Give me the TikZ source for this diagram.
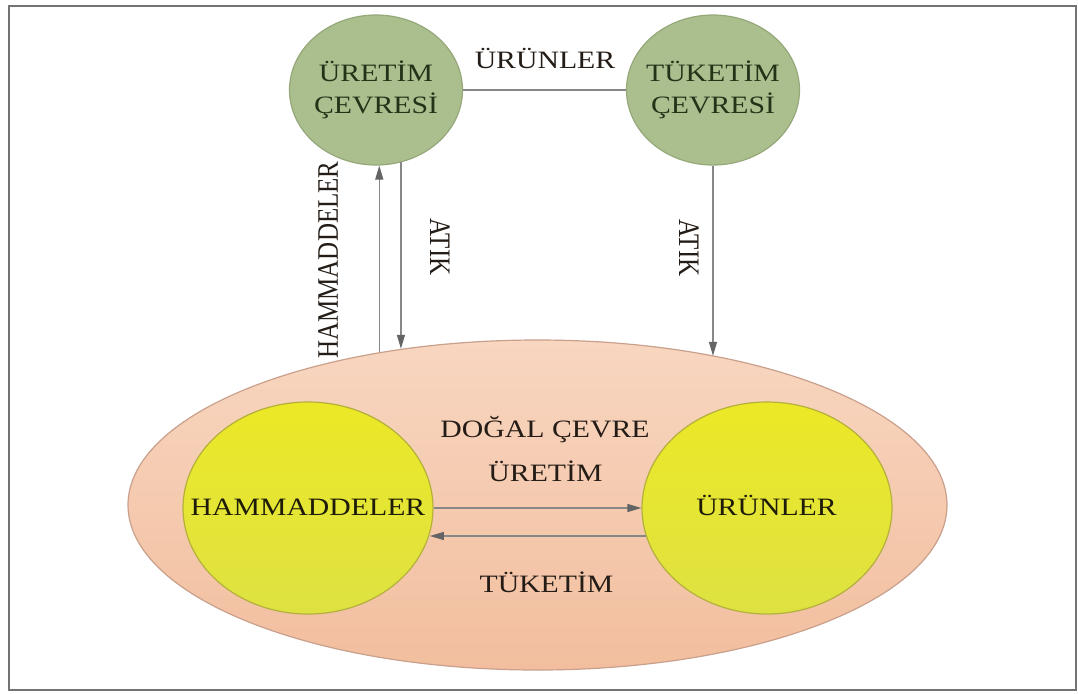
\documentclass[tikz,border=0pt]{standalone}
\usepackage{fontspec}
\setmainfont{Liberation Serif}
\usepackage{graphicx}
\usetikzlibrary{arrows.meta,shapes.geometric}
\definecolor{framegray}{RGB}{115,115,115}
\definecolor{linegray}{RGB}{135,135,135}
\definecolor{tipgray}{RGB}{100,100,100}
\definecolor{sagefill}{RGB}{170,190,142}
\definecolor{sageline}{RGB}{150,168,122}
\definecolor{sagetext}{RGB}{36,50,24}
\definecolor{peachtop}{RGB}{248,214,192}
\definecolor{peachbot}{RGB}{242,190,158}
\definecolor{peachline}{RGB}{200,160,140}
\definecolor{limetop}{RGB}{236,232,38}
\definecolor{limebot}{RGB}{222,226,66}
\definecolor{limeline}{RGB}{180,176,60}
\definecolor{limetext}{RGB}{30,28,8}
\definecolor{inktext}{RGB}{36,28,22}
\newcommand{\widetxt}[1]{\scalebox{1.19}[1]{#1}}
\newcommand{\talltxt}[1]{\scalebox{1}[1.19]{#1}}
\begin{document}
\begin{tikzpicture}[x=0.5pt,y=-0.5pt,
    every node/.style={font=\fontsize{12.5}{15.8}\selectfont},
    sageball/.style={ellipse,inner sep=0pt,minimum width=86.5pt,minimum height=75pt,fill=sagefill,draw=sageline,line width=0.6pt},
    limeball/.style={ellipse,inner sep=0pt,minimum width=125pt,minimum height=106pt,top color=limetop,bottom color=limebot,draw=limeline,line width=0.6pt},
    peachball/.style={ellipse,inner sep=0pt,minimum width=409.5pt,minimum height=165pt,top color=peachtop,bottom color=peachbot,draw=peachline,line width=0.6pt},
    link/.style={draw=linegray,line width=0.6pt},
    flow/.style={link,-{Triangle[length=7pt,width=4pt,color=tipgray]}},
    lbl/.style={inner sep=0pt,text=inktext},
    sagelbl/.style={lbl,text=sagetext,align=center},
    limelbl/.style={lbl,text=limetext}]
    \useasboundingbox (0,0) rectangle (1078,693);
    \draw[framegray,line width=1.3pt] (9,6) rectangle (1076,690);

    \node[peachball] (env) at (537.5,505) {};
    \node[limeball] (ham) at (308,508) {};
    \node[limeball] (uru) at (767,508) {};
    \node[sageball] (uret) at (376,90) {};
    \node[sageball] (tuk) at (713,90) {};

    \draw[link] (uret.east) -- (tuk.west);
    \draw[flow] (env.136.6) -- (env.136.6 |- uret.south);
    \draw[flow] (uret.-71.6) -- (uret.-71.6 |- env.131.5);
    \draw[flow] (tuk.south) -- (tuk.south |- env.40.3);
    \draw[flow] (ham.east) -- (uru.west);
    \draw[flow] (uru.-167.4) -- (uru.-167.4 -| ham.-12.6);

    \node[sagelbl] (uretT) at (uret) {\widetxt{ÜRETİM}\\\widetxt{ÇEVRESİ}};
    \node[sagelbl] (tukT) at (tuk) {\widetxt{TÜKETİM}\\\widetxt{ÇEVRESİ}};
    \node[lbl,anchor=base] (urunT) at (545,68) {\widetxt{ÜRÜNLER}};
    \node[lbl,rotate=90] (hamV) at (328,260) {\talltxt{HAMMADDELER}};
    \node[lbl,rotate=-90] (atikL) at (440,247) {\talltxt{ATIK}};
    \node[lbl,rotate=-90] (atikR) at (689,248) {\talltxt{ATIK}};
    \node[lbl,anchor=base] (dogalT) at (545,437) {\widetxt{DOĞAL ÇEVRE}};
    \node[lbl,anchor=base] (uretimT) at (545.5,481) {\widetxt{ÜRETİM}};
    \node[lbl,anchor=base] (tuketimT) at (546.5,592) {\widetxt{TÜKETİM}};
    \node[limelbl,anchor=base] (hamT) at (308,515) {\widetxt{HAMMADDELER}};
    \node[limelbl,anchor=base] (uruT) at (766.5,515) {\widetxt{ÜRÜNLER}};
\end{tikzpicture}
\end{document}
